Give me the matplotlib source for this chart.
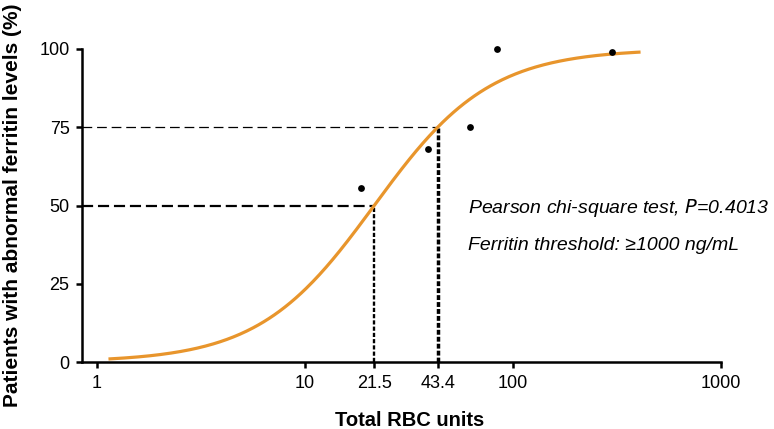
import numpy as np
import matplotlib
matplotlib.use("Agg")
import matplotlib.pyplot as plt

plt.rcParams['font.family'] = ['Liberation Sans', 'DejaVu Sans']
plt.rcParams['lines.scale_dashes'] = False

# Observed data points (Total RBC units, % patients with abnormal ferritin)
obs_x = [18.6, 39.0, 62.0, 84.0, 300.0]
obs_y = [55.5, 68.0, 75.0, 100.0, 99.0]

# Fitted logistic curve thresholds shown on chart
x50 = 21.5   # RBC units at 50%
x75 = 43.4   # RBC units at 75%
curve_range = [1.155, 403.0]

xticks = [1, 10, 21.5, 43.4, 100, 1000]
xticklabels = ["1", "10", "21.5", "43.4", "100", "1000"]
yticks = [0, 25, 50, 75, 100]

orange = "#E8952C"

fig = plt.figure(figsize=(7.74, 4.29), dpi=100)
ax = fig.add_axes([0.106, 0.156, 0.8256, 0.7298])

# logistic fitted on log10(x), parameterised by the two labelled thresholds
b = np.log(3) / (np.log10(x75) - np.log10(x50))
xc = np.logspace(np.log10(curve_range[0]), np.log10(curve_range[1]), 400)
yc = 100.0 / (1.0 + np.exp(-b * (np.log10(xc) - np.log10(x50))))

xmin = 0.847
ax.set_xscale('log')
ax.set_xlim(xmin, 1000)
ax.set_ylim(0, 100)

# reference lines
ax.plot([xmin, x75], [75, 75], color='black', lw=0.9, dashes=(7, 3.5), zorder=2)
ax.plot([xmin, x50], [50, 50], color='black', lw=1.6, dashes=(8, 3.5), zorder=2)
ax.plot([x50, x50], [0, 50], color='black', lw=1.7, dashes=(3, 1.5), zorder=2)
ax.plot([x75, x75], [0, 75], color='black', lw=2.5, dashes=(3.5, 1.5), zorder=2)

ax.plot(xc, yc, color=orange, lw=2.3, zorder=3)
ax.scatter(obs_x, obs_y, s=24, color='black', zorder=4, linewidths=0, clip_on=False)

ax.set_xticks(xticks)
ax.set_xticklabels(xticklabels)
ax.xaxis.set_minor_locator(matplotlib.ticker.NullLocator())
ax.set_yticks(yticks)
ax.set_yticklabels([str(v) for v in yticks])

for s in ['top', 'right']:
    ax.spines[s].set_visible(False)
for s in ['left', 'bottom']:
    ax.spines[s].set_linewidth(1.8)
ax.tick_params(axis='both', direction='out', length=4, width=1.8, labelsize=13, pad=5)

ax.set_xlabel("Total RBC units", fontsize=14.5, fontweight='bold')
ax.xaxis.set_label_coords(0.513, -0.155)
ax.xaxis.label.set_va('top')
ax.set_ylabel("Patients with abnormal ferritin levels (%)", fontsize=15, fontweight='bold')
ax.yaxis.set_label_coords(-0.094, 0.5)

ax.text(0.604, 0.476, "Pearson chi-square test, $\\mathit{P}$=0.4013", transform=ax.transAxes,
        fontsize=14, style='italic', va='baseline', ha='left')
ax.text(0.604, 0.358, "Ferritin threshold: \u22651000 ng/mL", transform=ax.transAxes,
        fontsize=14, style='italic', va='baseline', ha='left')

fig.savefig("out.png", dpi=100)
